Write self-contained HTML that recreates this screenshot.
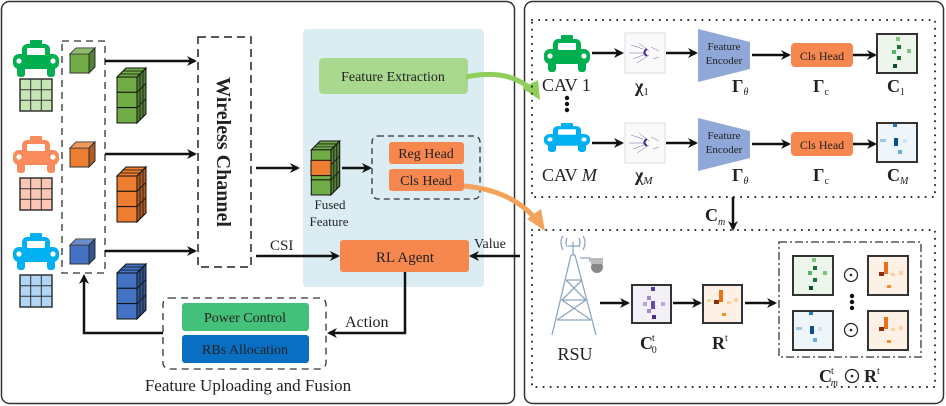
<!DOCTYPE html>
<html><head><meta charset="utf-8"><style>
html,body{margin:0;padding:0;background:#fff}
svg{display:block}
text{font-family:"Liberation Serif",serif;fill:#222}
</style></head><body>
<svg width="946" height="406" viewBox="0 0 946 406" xmlns="http://www.w3.org/2000/svg">
<defs>
<marker id="ah" markerWidth="10" markerHeight="10" refX="8" refY="5" orient="auto" markerUnits="userSpaceOnUse">
<path d="M0,0 L10,5 L0,10 L3,5 Z" fill="#111"/></marker>
<symbol id="car" viewBox="0 0 46 37" overflow="visible" preserveAspectRatio="none">
<rect x="17" y="0" width="12" height="5" rx="1"/>
<rect x="9" y="4" width="28" height="15" rx="5"/>
<rect x="0" y="14" width="46" height="15" rx="6"/>
<rect x="14" y="8" width="18" height="7" rx="1" fill="#fff"/>
<circle cx="6" cy="21" r="2.6" fill="#fff"/><circle cx="40" cy="21" r="2.6" fill="#fff"/>
<rect x="4" y="26" width="8" height="11" rx="3"/><rect x="34" y="26" width="8" height="11" rx="3"/>
</symbol>
<symbol id="grid" viewBox="0 0 32 32" overflow="visible">
<rect x="0" y="0" width="32" height="32" stroke="#333" stroke-width="1.5"/>
<path d="M10.7,0V32M21.3,0V32M0,10.7H32M0,21.3H32" stroke="#333" stroke-width="1"/>
</symbol>
<symbol id="cube" viewBox="0 0 25 25" overflow="visible">
<rect x="0" y="6" width="19" height="19" stroke="#333" stroke-width="1"/>
<polygon points="0,6 6,0 25,0 19,6" stroke="#333" stroke-width="1"/>
<polygon points="0,6 6,0 25,0 19,6" fill="#fff" fill-opacity="0.2"/>
<polygon points="19,6 25,0 25,19 19,25" stroke="#333" stroke-width="1"/>
<polygon points="19,6 25,0 25,19 19,25" fill="#000" fill-opacity="0.25"/>
</symbol>
<symbol id="col" viewBox="0 0 30 55" overflow="visible">
<polygon points="0,9 9,0 29,0 20,9" stroke="#111" stroke-width="1"/>
<polygon points="20,9 29,0 29,46 20,55" stroke="#111" stroke-width="1"/>
<polygon points="20,9 29,0 29,46 20,55" fill="#000" fill-opacity="0.25"/>
<rect x="0" y="9" width="20" height="15.3" stroke="#111" stroke-width="1"/>
<rect x="0" y="24.3" width="20" height="15.3" stroke="#111" stroke-width="1"/>
<rect x="0" y="39.6" width="20" height="15.4" stroke="#111" stroke-width="1"/>
<path d="M3,6 L23,6 M6,3 L26,3 M23,6 V52 M26,3 V49 M20,24.3 L29,15.3 M20,39.6 L29,30.6" stroke="#111" stroke-width="0.8" fill="none"/>
</symbol>
<symbol id="pc" viewBox="0 0 40 40" overflow="visible">
<rect x="0" y="0" width="40" height="40" fill="#fafafa" stroke="#ddd"/>
<g stroke="#7a6aa8" stroke-width="0.5" fill="none">
<path d="M6,12 L18,16 M8,26 L18,22 M20,18 q-4,2 0,5 M14,10 l10,8 M12,30 l12,-8 M26,14 l8,4 M28,26 l6,-2 M4,20 l14,0"/>
</g>
<path d="M22,16 q-5,3 0,7" stroke="#4b2e83" stroke-width="2" fill="none"/>
</symbol>
</defs>

<rect x="1.5" y="1.5" width="513" height="402" rx="8" fill="#fff" stroke="#333" stroke-width="1.5"/>
<rect x="524.5" y="1.5" width="419" height="402" rx="8" fill="#fff" stroke="#333" stroke-width="1.5"/>

<rect x="303" y="29" width="181" height="258" rx="4" fill="#dbedf3"/>

<use href="#car" x="13" y="40" width="46" height="37" fill="#00b050"/>
<use href="#grid" x="20" y="79" width="32" height="32" fill="#c6e6b6"/>
<use href="#car" x="13" y="136" width="46" height="37" fill="#fa8b5c"/>
<use href="#grid" x="20" y="178" width="32" height="32" fill="#fbc7b5"/>
<use href="#car" x="13" y="233" width="46" height="37" fill="#00b0f0"/>
<use href="#grid" x="20" y="275" width="32" height="32" fill="#b0d5f5"/>

<rect x="62" y="41" width="43" height="232" fill="none" stroke="#333" stroke-width="1.3" stroke-dasharray="7,5"/>
<use href="#cube" x="70" y="48" width="25" height="25" fill="#70ad47"/>
<use href="#cube" x="70" y="142" width="25" height="25" fill="#ed7d31"/>
<use href="#cube" x="70" y="239" width="25" height="25" fill="#4472c4"/>

<g stroke="#111" stroke-width="2.5" marker-end="url(#ah)">
<line x1="105" y1="61" x2="195" y2="61"/>
<line x1="105" y1="154" x2="195" y2="154"/>
<line x1="105" y1="251" x2="195" y2="251"/>
</g>
<use href="#col" x="117" y="68" width="30" height="55" fill="#70ad47"/>
<use href="#col" x="117" y="167" width="30" height="55" fill="#ed7d31"/>
<use href="#col" x="117" y="264" width="30" height="55" fill="#4472c4"/>

<rect x="198" y="37" width="53" height="230" fill="none" stroke="#222" stroke-width="1.5" stroke-dasharray="8,5"/>
<text transform="translate(217,152) rotate(90)" text-anchor="middle" font-size="20" font-weight="bold">Wireless Channel</text>

<g stroke="#111" stroke-width="2.5" marker-end="url(#ah)">
<line x1="256" y1="168" x2="298" y2="168"/>
<line x1="342" y1="168" x2="370" y2="168"/>
<line x1="256" y1="256" x2="338" y2="256"/>
<line x1="520" y1="256" x2="471" y2="256"/>
</g>
<text x="270" y="250" font-size="15">CSI</text>
<text x="474" y="248" font-size="14">Value</text>

<rect x="319" y="58" width="149" height="36" rx="4" fill="#a9d88f"/>
<text x="393" y="81" text-anchor="middle" font-size="14">Feature Extraction</text>

<use href="#col" x="311" y="141" width="30" height="54" fill="#70ad47"/>
<rect x="311" y="160.3" width="20" height="15.3" fill="#ed7d31" stroke="#111" stroke-width="1"/>
<text x="330" y="209" text-anchor="middle" font-size="13">Fused</text>
<text x="329" y="226" text-anchor="middle" font-size="13">Feature</text>

<rect x="372" y="136" width="108" height="63" rx="6" fill="none" stroke="#333" stroke-width="1.3" stroke-dasharray="6,4"/>
<rect x="389" y="142" width="75" height="22" rx="3" fill="#f6874f"/>
<text x="426" y="158" text-anchor="middle" font-size="14">Reg Head</text>
<rect x="389" y="169" width="75" height="22" rx="3" fill="#f6874f"/>
<text x="426" y="185" text-anchor="middle" font-size="14">Cls Head</text>

<rect x="340" y="240" width="129" height="32" rx="3" fill="#f6874f"/>
<text x="405" y="262" text-anchor="middle" font-size="15">RL  Agent</text>

<path d="M405,272 V333 H329" fill="none" stroke="#111" stroke-width="2.5" marker-end="url(#ah)"/>
<text x="345" y="327" font-size="16">Action</text>

<rect x="163" y="298" width="163" height="71" rx="6" fill="none" stroke="#333" stroke-width="1.3" stroke-dasharray="7,5"/>
<rect x="182" y="303" width="127" height="28" rx="3" fill="#43c07a"/>
<text x="245" y="322" text-anchor="middle" font-size="14">Power Control</text>
<rect x="182" y="335" width="127" height="28" rx="3" fill="#0a6fc2"/>
<text x="245" y="354" text-anchor="middle" font-size="14">RBs Allocation</text>
<path d="M163,333 H84 V276" fill="none" stroke="#111" stroke-width="2.5" marker-end="url(#ah)"/>

<text x="248" y="391" text-anchor="middle" font-size="17">Feature Uploading and Fusion</text>

<path d="M466,77 Q508,68 532,90" fill="none" stroke="#8fce5a" stroke-width="5"/>
<polygon points="522,88 540,100 538,80" fill="#8fce5a"/>
<path d="M464,186 Q510,190 535,218" fill="none" stroke="#f4a25a" stroke-width="5"/>
<polygon points="527,219 545,231 541,209" fill="#f4a25a"/>

<rect x="532" y="20" width="403" height="177" fill="none" stroke="#222" stroke-width="2" stroke-dasharray="0.1,7" stroke-linecap="round"/>
<rect x="532" y="230" width="403" height="157" fill="none" stroke="#222" stroke-width="2" stroke-dasharray="0.1,7" stroke-linecap="round"/>

<use href="#car" x="544" y="35" width="46" height="37" fill="#00b050"/>
<text x="542" y="91" font-size="18">CAV 1</text>
<circle cx="567" cy="98" r="2.2" fill="#111"/><circle cx="567" cy="104" r="2.2" fill="#111"/><circle cx="567" cy="110" r="2.2" fill="#111"/>
<use href="#car" x="544" y="123" width="46" height="29" fill="#00b0f0"/>
<text x="542" y="181" font-size="18">CAV <tspan font-style="italic">M</tspan></text>

<use href="#pc" x="625" y="33" width="40" height="40"/>
<use href="#pc" x="625" y="123" width="40" height="40"/>
<text x="635" y="92" font-size="18" font-weight="bold">χ<tspan font-size="11" font-weight="normal" dy="3">1</tspan></text>
<text x="635" y="181" font-size="18" font-weight="bold">χ<tspan font-size="11" font-style="italic" font-weight="normal" dy="3">M</tspan></text>

<polygon points="698,29 750,42 750,69 698,82" fill="#8fa8d8"/>
<text x="724" y="50" text-anchor="middle" font-size="11">Feature</text>
<text x="724" y="64" text-anchor="middle" font-size="11">Encoder</text>
<polygon points="698,118 750,131 750,158 698,171" fill="#8fa8d8"/>
<text x="724" y="139" text-anchor="middle" font-size="11">Feature</text>
<text x="724" y="153" text-anchor="middle" font-size="11">Encoder</text>

<rect x="791" y="43" width="62" height="24" rx="4" fill="#f6874f"/>
<text x="822" y="60" text-anchor="middle" font-size="12">Cls Head</text>
<rect x="791" y="132" width="62" height="24" rx="4" fill="#f6874f"/>
<text x="822" y="149" text-anchor="middle" font-size="12">Cls Head</text>

<text x="732" y="92" font-size="18" font-weight="bold">Γ<tspan font-size="10" font-style="italic" font-weight="normal" dy="3">θ</tspan></text>
<text x="732" y="181" font-size="18" font-weight="bold">Γ<tspan font-size="10" font-style="italic" font-weight="normal" dy="3">θ</tspan></text>
<text x="813" y="92" font-size="18" font-weight="bold">Γ<tspan font-size="10" font-weight="normal" dy="3">c</tspan></text>
<text x="813" y="181" font-size="18" font-weight="bold">Γ<tspan font-size="10" font-weight="normal" dy="3">c</tspan></text>
<text x="887" y="92" font-size="18" font-weight="bold">C<tspan font-size="10" font-weight="normal" dy="3">1</tspan></text>
<text x="887" y="181" font-size="18" font-weight="bold">C<tspan font-size="10" font-style="italic" font-weight="normal" dy="3">M</tspan></text>

<g stroke="#111" stroke-width="2.5" marker-end="url(#ah)">
<line x1="592" y1="53" x2="622" y2="53"/><line x1="666" y1="53" x2="696" y2="53"/>
<line x1="752" y1="55" x2="789" y2="55"/><line x1="853" y1="55" x2="875" y2="55"/>
<line x1="592" y1="143" x2="622" y2="143"/><line x1="666" y1="143" x2="696" y2="143"/>
<line x1="752" y1="144" x2="789" y2="144"/><line x1="853" y1="144" x2="875" y2="144"/>
<line x1="733" y1="197" x2="733" y2="229"/>
<line x1="600" y1="303" x2="628" y2="303"/><line x1="673" y1="303" x2="700" y2="303"/>
<line x1="745" y1="303" x2="775" y2="303"/>
</g>
<text x="705" y="221" font-size="18" font-weight="bold">C<tspan font-size="10" font-style="italic" font-weight="normal" dy="4">m</tspan></text>

<rect x="877" y="34" width="40" height="39" fill="#edf6ea" stroke="#333" stroke-width="2"/>
<rect x="896" y="37" width="4" height="4" fill="#7cc47f"/><rect x="897" y="45" width="4" height="4" fill="#1f6f3a"/>
<rect x="892" y="50" width="4" height="4" fill="#5bb36a"/><rect x="907" y="49" width="4" height="4" fill="#7cc47f"/>
<rect x="897" y="56" width="4" height="4" fill="#1f6f3a"/><rect x="893" y="64" width="4" height="4" fill="#0b4d24"/>
<rect x="877" y="123" width="40" height="39" fill="#eef5fb" stroke="#333" stroke-width="2"/>
<rect x="893" y="124" width="4" height="3" fill="#2b7bba"/><rect x="894" y="138" width="4" height="8" fill="#0b4d8a"/>
<rect x="880" y="139" width="6" height="3" fill="#9cc7e6"/><rect x="903" y="139" width="4" height="4" fill="#cfe2f3"/>
<rect x="898" y="150" width="4" height="4" fill="#6aaed6"/>

<g stroke="#8ea6c0" stroke-width="1.3" fill="none">
<path d="M571,255 L552,335 M575,255 L596,335 M571,255 H575 M566,280 H582 M562,300 H586 M557,320 H591 M566,280 L586,300 L557,320 M582,280 L562,300 L591,320 M573,242 V255 M568,246 H580"/>
<path d="M563,250 q-4,-8 0,-14 M583,250 q4,-8 0,-14 M567,247 q-2,-5 0,-9 M579,247 q2,-5 0,-9"/>
<path d="M580,258 H590 V262"/>
</g>
<circle cx="597" cy="267" r="6" fill="#888"/><rect x="591" y="258" width="12" height="6" fill="#bbb"/>
<text x="575" y="360" text-anchor="middle" font-size="18">RSU</text>

<rect x="632" y="285" width="39" height="38" fill="#f3f0f8" stroke="#333" stroke-width="2"/>
<rect x="651" y="287" width="4" height="4" fill="#5a3a9a"/><rect x="647" y="296" width="4" height="4" fill="#9e8ac8"/>
<rect x="643" y="302" width="4" height="4" fill="#b5a8d8"/><rect x="651" y="301" width="4" height="8" fill="#6a4bab"/>
<rect x="661" y="302" width="4" height="4" fill="#b5a8d8"/><rect x="647" y="309" width="4" height="4" fill="#9e8ac8"/>
<rect x="652" y="315" width="4" height="4" fill="#4b2e83"/>
<text x="640" y="349" font-size="18" font-weight="bold">C<tspan font-size="10" font-weight="normal" dx="-1" dy="-8">t</tspan><tspan font-size="10" font-weight="normal" dx="-3" dy="12">0</tspan></text>
<rect x="703" y="285" width="39" height="38" fill="#fdf1e6" stroke="#333" stroke-width="2"/>
<rect x="719" y="290" width="4" height="12" fill="#e6711a"/><rect x="714" y="300" width="5" height="4" fill="#8c2d04"/>
<rect x="707" y="299" width="4" height="3" fill="#fdd0a2"/><rect x="727" y="301" width="4" height="3" fill="#fdd0a2"/>
<rect x="734" y="298" width="4" height="4" fill="#fdd0a2"/><rect x="722" y="313" width="4" height="3" fill="#f28e2b"/>
<text x="712" y="349" font-size="18" font-weight="bold">R<tspan font-size="10" font-weight="normal" dy="-8">t</tspan></text>

<rect x="779" y="242" width="142" height="115" fill="none" stroke="#333" stroke-width="1.3" stroke-dasharray="8,3,2,3"/>
<g>
<rect x="793" y="256" width="40" height="39" fill="#edf6ea" stroke="#333" stroke-width="2"/>
<rect x="812" y="258" width="4" height="4" fill="#7cc47f"/><rect x="813" y="266" width="4" height="4" fill="#1f6f3a"/>
<rect x="808" y="271" width="4" height="4" fill="#5bb36a"/><rect x="823" y="271" width="4" height="4" fill="#7cc47f"/>
<rect x="813" y="278" width="4" height="4" fill="#1f6f3a"/><rect x="809" y="286" width="4" height="4" fill="#0b4d24"/>
<rect x="868" y="256" width="40" height="39" fill="#fdf1e6" stroke="#333" stroke-width="2"/>
<rect x="884" y="262" width="4" height="12" fill="#e6711a"/><rect x="879" y="272" width="5" height="4" fill="#8c2d04"/>
<rect x="891" y="273" width="4" height="3" fill="#fdd0a2"/><rect x="899" y="271" width="4" height="4" fill="#fdd0a2"/>
<rect x="887" y="285" width="4" height="3" fill="#f28e2b"/>
<rect x="793" y="311" width="40" height="39" fill="#eef5fb" stroke="#333" stroke-width="2"/>
<rect x="809" y="312" width="4" height="3" fill="#2b7bba"/><rect x="810" y="326" width="4" height="8" fill="#0b4d8a"/>
<rect x="796" y="327" width="6" height="3" fill="#9cc7e6"/><rect x="818" y="327" width="4" height="4" fill="#cfe2f3"/>
<rect x="813" y="338" width="4" height="4" fill="#6aaed6"/>
<rect x="868" y="311" width="40" height="39" fill="#fdf1e6" stroke="#333" stroke-width="2"/>
<rect x="884" y="317" width="4" height="12" fill="#e6711a"/><rect x="879" y="327" width="5" height="4" fill="#8c2d04"/>
<rect x="891" y="328" width="4" height="3" fill="#fdd0a2"/><rect x="899" y="326" width="4" height="4" fill="#fdd0a2"/>
<rect x="887" y="340" width="4" height="3" fill="#f28e2b"/>
</g>
<circle cx="851" cy="275" r="6.5" fill="none" stroke="#222" stroke-width="1.2"/><circle cx="851" cy="275" r="1.3" fill="#222"/>
<circle cx="851" cy="330" r="6.5" fill="none" stroke="#222" stroke-width="1.2"/><circle cx="851" cy="330" r="1.3" fill="#222"/>
<circle cx="852" cy="296" r="2.2" fill="#111"/><circle cx="852" cy="302" r="2.2" fill="#111"/><circle cx="852" cy="308" r="2.2" fill="#111"/>
<text x="819" y="382" font-size="18" font-weight="bold">C<tspan font-size="10" font-weight="normal" dx="-1" dy="-8">t</tspan><tspan font-size="10" font-style="italic" font-weight="normal" dx="-3" dy="12">m</tspan></text>
<circle cx="852" cy="376" r="6.5" fill="none" stroke="#222" stroke-width="1.3"/><circle cx="852" cy="376" r="1.3" fill="#222"/>
<text x="864" y="382" font-size="18" font-weight="bold">R<tspan font-size="10" font-weight="normal" dy="-8">t</tspan></text>
</svg>
</body></html>
